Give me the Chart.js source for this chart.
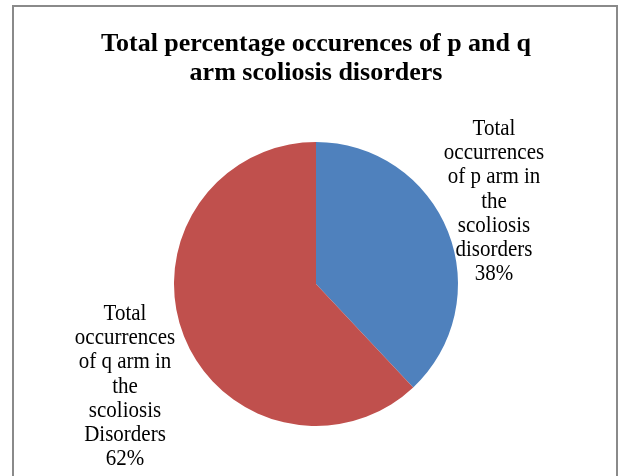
<!DOCTYPE html>
<html>
<head>
<meta charset="utf-8">
<script src="https://cdn.jsdelivr.net/npm/chart.js@4/dist/chart.umd.min.js"></script>
<style>
  html, body { margin: 0; padding: 0; background: #ffffff; }
  #wrap { width: 623px; height: 476px; position: relative; }
</style>
</head>
<body>
<div id="wrap"><canvas id="c" width="623" height="476"></canvas></div>
<script>
// Chart content
const titleLines = ['Total percentage occurences of p and q', 'arm scoliosis disorders'];
const categories = [
  ['Total', 'occurrences', 'of p arm in', 'the', 'scoliosis', 'disorders'],
  ['Total', 'occurrences', 'of q arm in', 'the', 'scoliosis', 'Disorders']
];
const percentValues = [38, 62];
const sliceColors = ['#4F81BD', '#C0504D'];

// Frame drawn around the whole chart
const framePlugin = {
  id: 'frame',
  beforeDraw(chart) {
    const ctx = chart.ctx;
    ctx.save();
    ctx.fillStyle = '#ffffff';
    ctx.fillRect(0, 0, chart.width, chart.height);
    ctx.strokeStyle = '#8a8a8a';
    ctx.lineWidth = 2;
    ctx.strokeRect(13, 6, 604, 480);
    ctx.restore();
  }
};

// Category name and percentage written beside each slice
const sliceLabelPlugin = {
  id: 'sliceLabels',
  afterDatasetsDraw(chart, args, opts) {
    const ctx = chart.ctx;
    const meta = chart.getDatasetMeta(0);
    const data = chart.data.datasets[0].data;
    ctx.save();
    ctx.font = '21px "Liberation Serif", "Times New Roman", serif';
    ctx.fillStyle = '#000000';
    ctx.textAlign = 'center';
    ctx.textBaseline = 'middle';
    meta.data.forEach((arc, i) => {
      const off = opts.offsets[i];
      const lines = chart.data.labels[i].concat([data[i] + '%']);
      const x = arc.x + off[0];
      const yTop = arc.y + off[1];
      lines.forEach((t, k) => {
        const y = yTop + k * opts.lineHeight;
        ctx.save();
        ctx.translate(x, y);
        ctx.scale(1, opts.stretch);
        ctx.fillText(t, 0, 0);
        ctx.restore();
      });
    });
    ctx.restore();
  }
};

new Chart(document.getElementById('c'), {
  type: 'pie',
  data: {
    labels: categories,
    datasets: [{
      data: percentValues,
      backgroundColor: sliceColors,
      borderColor: '#ffffff',
      borderWidth: 0,
      radius: 142
    }]
  },
  options: {
    responsive: false,
    animation: false,
    layout: { padding: { left: 10, right: 1, top: 0, bottom: 50 } },
    plugins: {
      legend: { display: false },
      tooltip: { enabled: false },
      title: {
        display: true,
        text: titleLines,
        color: '#000000',
        font: { family: '"Liberation Serif", "Times New Roman", serif', size: 26, weight: 'bold', lineHeight: 1.115 },
        padding: { top: 30, bottom: 54 }
      },
      sliceLabels: {
        lineHeight: 24.2,
        stretch: 1.1,
        offsets: [[178, -155], [-191, 30]]
      }
    }
  },
  plugins: [framePlugin, sliceLabelPlugin]
});
</script>
</body>
</html>
